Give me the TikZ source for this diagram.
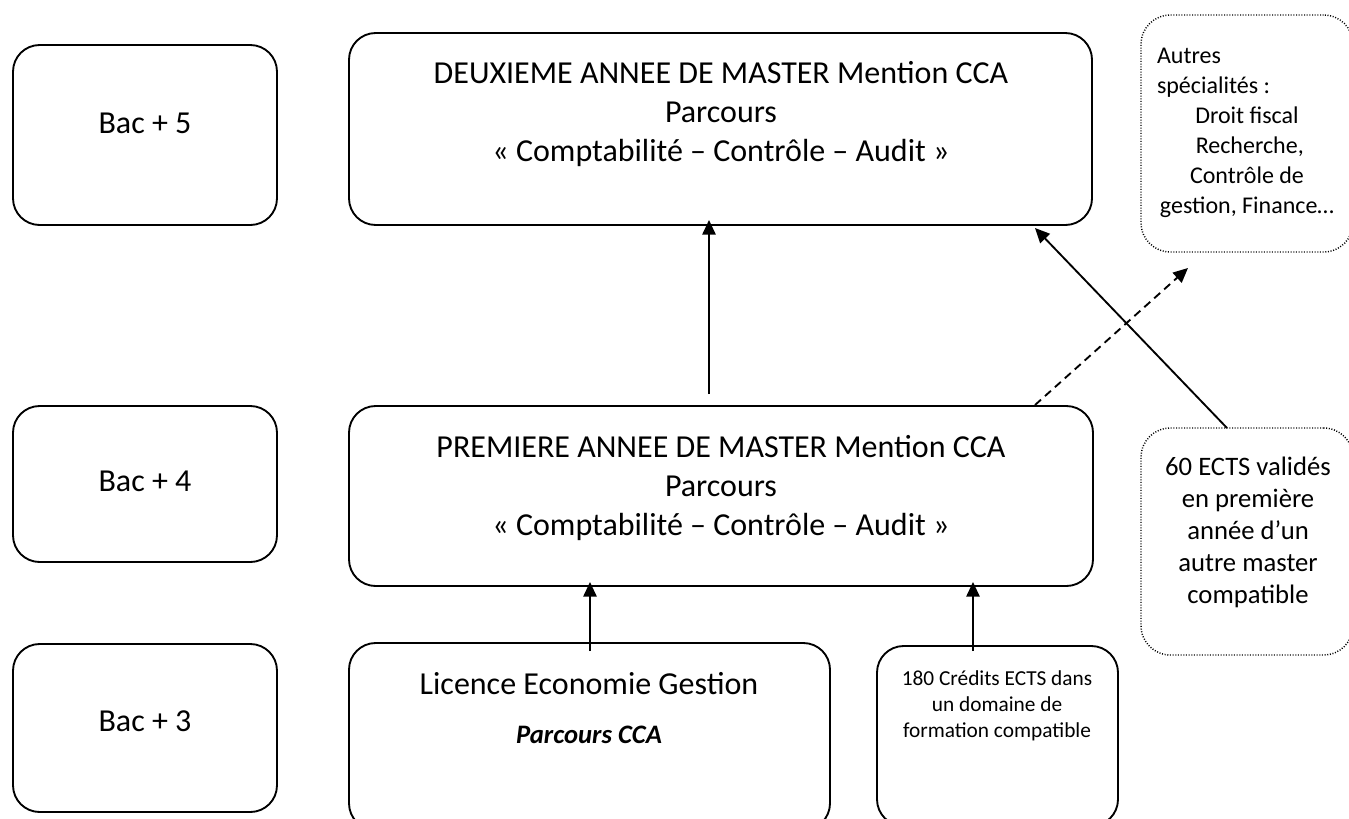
\documentclass[tikz,border=0pt]{standalone}
\usepackage{fontspec}
\setmainfont{Carlito}
\usetikzlibrary{fit,arrows.meta}
\newcommand\txtlines[1]{\begin{tabular}[t]{@{}c@{}}#1\end{tabular}}
\begin{document}
\begin{tikzpicture}[x=0.75pt,y=-0.75pt,
  box/.style={draw, line width=1.4pt, rounded corners=20pt, inner sep=0pt},
  dotbox/.style={draw, line width=1.1pt, rounded corners=22pt, inner sep=0pt, dash pattern=on 0.75pt off 1.25pt},
  txt/.style={inner sep=0pt, anchor=base},
  big/.style={font=\fontsize{24}{29.25}\selectfont},
  arr/.style={line width=1.4pt, -{Triangle[length=11pt,width=10pt]}},
  dasharr/.style={arr, dash pattern=on 6pt off 4pt}
]
\useasboundingbox (0,0) rectangle (1349,818);
\clip (0,0) rectangle (1349,818);
\fill[white] (0,0) rectangle (1349,818);

% level boxes
\node[box, fit={(13,45)(277,225)}] (b5) {};
\node[box, fit={(13,406)(277,562)}] (b4) {};
\node[box, fit={(13,644)(277,812)}] (b3) {};
% main boxes
\node[box, fit={(349,33)(1092,225)}] (m2) {};
\node[box, fit={(349,406)(1093,586)}] (m1) {};
\node[box, fit={(349,643)(830,830)}] (lic) {};
\node[box, fit={(877,646)(1118,826)}] (c180) {};
% dotted boxes
\node[dotbox, fit={(1141,15)(1353,252)}] (autres) {};
\node[dotbox, fit={(1141,428)(1353,655)}] (e60) {};

% texts
\node[txt, big] (t5) at (145,133) {Bac + 5};
\node[txt, big] (t4) at (145,491) {Bac + 4};
\node[txt, big] (t3) at (145,731) {Bac + 3};
\node[txt, big] (tm2) at (721,83) {\txtlines{DEUXIEME ANNEE DE MASTER Mention CCA\\ Parcours\\ « Comptabilité – Contrôle – Audit »}};
\node[txt, big] (tm1) at (721,457) {\txtlines{PREMIERE ANNEE DE MASTER Mention CCA\\ Parcours\\ « Comptabilité – Contrôle – Audit »}};
\node[txt, big] (tlic) at (589,694) {Licence Economie Gestion};
\node[txt, font=\fontsize{20}{24}\selectfont\bfseries\itshape] (tpc) at (589,743) {Parcours CCA};
\node[txt, font=\fontsize{16}{19.5}\selectfont] (t180) at (997,685) {\txtlines{180 Crédits ECTS dans\\ un domaine de\\ formation compatible}};
\node[txt, font=\fontsize{20}{24}\selectfont] (t60) at (1248,475) {\txtlines{60 ECTS validés\\ en première\\ année d’un\\ autre master\\ compatible}};
\node[txt, font=\fontsize{18}{22.5}\selectfont] (taut) at (1247,63) {\txtlines{\makebox[135pt][l]{Autres}\\ \makebox[135pt][l]{spécialités :}\\ Droit fiscal\\ \ Recherche,\\ Contrôle de\\ gestion, Finance…}};

% connectors
\coordinate (a1s) at (709,394); \coordinate (a1e) at (709,220);
\coordinate (a2s) at (590,651); \coordinate (a2e) at (590,582);
\coordinate (a3s) at (973,651); \coordinate (a3e) at (973,582);
\coordinate (a4s) at (1227,428); \coordinate (a4e) at (1035,228);
\coordinate (a5s) at (1035,405); \coordinate (a5e) at (1188,268);
\draw[arr] (a1s) -- (a1e);
\draw[arr] (a2s) -- (a2e);
\draw[arr] (a3s) -- (a3e);
\draw[arr] (a4s) -- (a4e);
\draw[dasharr] (a5s) -- (a5e);
\end{tikzpicture}
\end{document}
